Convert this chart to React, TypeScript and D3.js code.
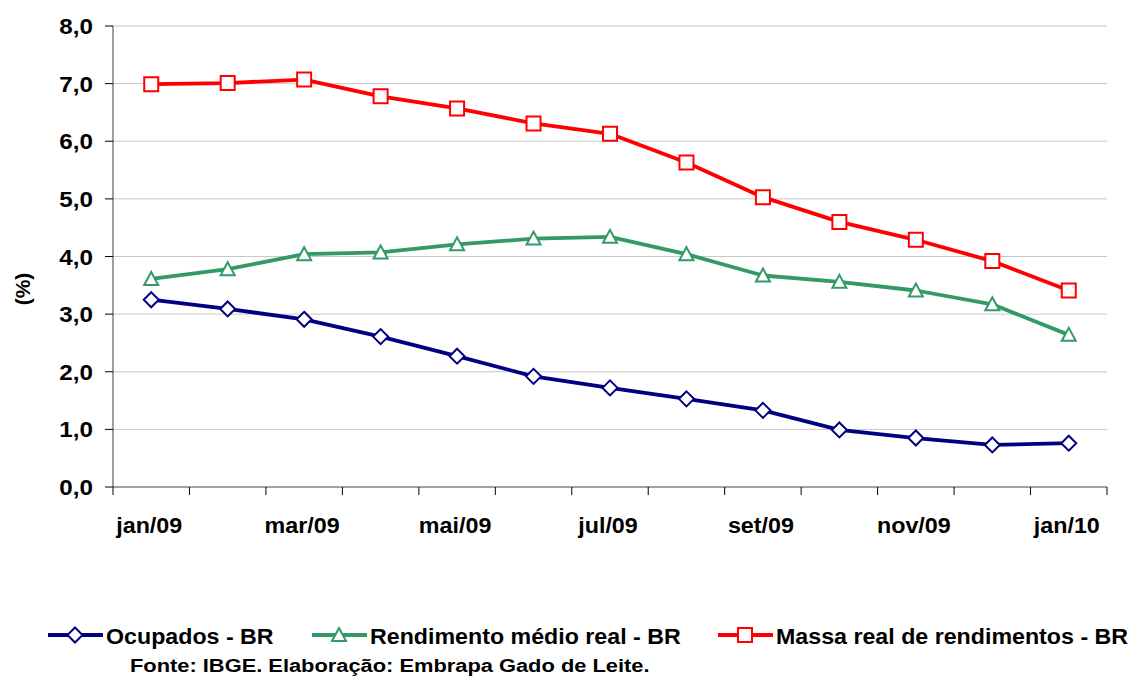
import { useEffect, useRef } from 'react'
import * as d3 from 'd3'

const MONTHS = ['jan/09', 'fev/09', 'mar/09', 'abr/09', 'mai/09', 'jun/09', 'jul/09', 'ago/09', 'set/09', 'out/09', 'nov/09', 'dez/09', 'jan/10']
const OCUPADOS = [3.25, 3.09, 2.91, 2.61, 2.27, 1.92, 1.72, 1.53, 1.33, 0.99, 0.85, 0.73, 0.76]
const RENDIMENTO = [3.61, 3.78, 4.04, 4.07, 4.21, 4.31, 4.34, 4.04, 3.67, 3.56, 3.41, 3.17, 2.64]
const MASSA = [6.99, 7.01, 7.07, 6.78, 6.57, 6.31, 6.13, 5.63, 5.03, 4.60, 4.29, 3.92, 3.41]
const Y_TICKS = [0, 1, 2, 3, 4, 5, 6, 7, 8]

const SERIES = [
  { label: 'Ocupados - BR', values: OCUPADOS, color: '#000080', marker: 'diamond' },
  { label: 'Rendimento médio real - BR', values: RENDIMENTO, color: '#339966', marker: 'triangle' },
  { label: 'Massa real de rendimentos - BR', values: MASSA, color: '#FF0000', marker: 'square' },
]

const W = 1133
const H = 676
const PLOT = { left: 113, right: 1107, top: 26, bottom: 487 }
const FONT = '"Liberation Sans", Arial, sans-serif'

function markerPath(kind: string, s: number) {
  const h = s / 2
  if (kind === 'diamond') return `M0,${-h}L${h},0L0,${h}L${-h},0Z`
  if (kind === 'triangle') return `M0,${-h}L${h},${h * 0.85}L${-h},${h * 0.85}Z`
  return `M${-h},${-h}H${h}V${h}H${-h}Z`
}

export default function App() {
  const svgRef = useRef<SVGSVGElement>(null)

  useEffect(() => {
    const svg = d3.select(svgRef.current!)
    svg.selectAll('*').remove()

    const x = d3.scaleBand<string>().domain(MONTHS).range([PLOT.left, PLOT.right])
    const cx = (m: string) => (x(m) ?? 0) + x.bandwidth() / 2
    const y = d3.scaleLinear([0, 8], [PLOT.bottom, PLOT.top])

    // stretched bold text, anchored at (tx, ty)
    const label = (parent: any, tx: number, ty: number, txt: string, size: number, sx: number, anchor = 'start') =>
      parent.append('text')
        .attr('transform', `translate(${tx},${ty}) scale(${sx},1)`)
        .attr('text-anchor', anchor).attr('font-size', size).attr('font-weight', 'bold')
        .attr('font-family', FONT).attr('fill', '#000')
        .text(txt)

    // ── Grid ──────────────────────────────────────────────────────────────
    svg.append('g')
      .selectAll('line')
      .data(Y_TICKS.filter(t => t > 0))
      .join('line')
      .attr('x1', PLOT.left).attr('x2', PLOT.right)
      .attr('y1', d => y(d)).attr('y2', d => y(d))
      .attr('stroke', '#c8c8c8').attr('stroke-width', 1)

    // ── Y axis ────────────────────────────────────────────────────────────
    const yg = svg.append('g')
    yg.append('line')
      .attr('x1', PLOT.left).attr('x2', PLOT.left)
      .attr('y1', PLOT.top).attr('y2', PLOT.bottom)
      .attr('stroke', '#808080').attr('stroke-width', 1.5)
    Y_TICKS.forEach(t => {
      yg.append('line')
        .attr('x1', PLOT.left - 8).attr('x2', PLOT.left)
        .attr('y1', y(t)).attr('y2', y(t))
        .attr('stroke', '#000')
      label(yg, PLOT.left - 20, y(t) + 8, d3.format('.1f')(t).replace('.', ','), 22, 1.1, 'end')
    })

    // ── X axis ────────────────────────────────────────────────────────────
    const xg = svg.append('g')
    xg.append('line')
      .attr('x1', PLOT.left).attr('x2', PLOT.right)
      .attr('y1', PLOT.bottom).attr('y2', PLOT.bottom)
      .attr('stroke', '#808080').attr('stroke-width', 1.5)
    const bounds = MONTHS.map(m => x(m) ?? 0).concat([PLOT.right])
    xg.selectAll('line.tk')
      .data(bounds)
      .join('line')
      .attr('class', 'tk')
      .attr('x1', d => d).attr('x2', d => d)
      .attr('y1', PLOT.bottom).attr('y2', PLOT.bottom + 8)
      .attr('stroke', '#000')
    MONTHS.filter((_, i) => i % 2 === 0).forEach(m => {
      label(xg, cx(m) - 2, 533, m, 22, 1.06, 'middle')
    })

    svg.append('text')
      .attr('transform', `translate(30,289) rotate(-90)`)
      .attr('text-anchor', 'middle').attr('font-size', 21).attr('font-weight', 'bold')
      .attr('font-family', FONT).attr('fill', '#000')
      .text('(%)')

    // ── Lines + markers ──────────────────────────────────────────────────
    const line = d3.line<number>().x((_, i) => cx(MONTHS[i])).y(d => y(d))
    SERIES.forEach(s => {
      svg.append('path')
        .attr('d', line(s.values) ?? '')
        .attr('fill', 'none').attr('stroke', s.color).attr('stroke-width', 3.8)
        .attr('stroke-linejoin', 'round')
      svg.append('g')
        .selectAll('path')
        .data(s.values)
        .join('path')
        .attr('transform', (d, i) => `translate(${cx(MONTHS[i])},${y(d)})`)
        .attr('d', markerPath(s.marker, s.marker === 'diamond' ? 15 : 14))
        .attr('fill', '#fff').attr('stroke', s.color).attr('stroke-width', 2)
    })

    // ── Legend ────────────────────────────────────────────────────────────
    const legendX = [48, 312, 718]
    const ly = 635
    SERIES.forEach((s, i) => {
      const lg = svg.append('g').attr('transform', `translate(${legendX[i]},${ly})`)
      lg.append('line').attr('x1', 0).attr('x2', 55)
        .attr('stroke', s.color).attr('stroke-width', 3.8)
      lg.append('path')
        .attr('transform', 'translate(27,0)')
        .attr('d', markerPath(s.marker, s.marker === 'diamond' ? 15 : 14))
        .attr('fill', '#fff').attr('stroke', s.color).attr('stroke-width', 2)
      label(lg, 58, 9, s.label, 22, 1.055)
    })

    label(svg, 130, 672, 'Fonte: IBGE. Elaboração: Embrapa Gado de Leite.', 19, 1.15)
  }, [])

  return (
    <div style={{ position: 'absolute', left: 0, top: 0, width: W, height: H, background: '#fff' }}>
      <svg ref={svgRef} width={W} height={H} />
    </div>
  )
}
